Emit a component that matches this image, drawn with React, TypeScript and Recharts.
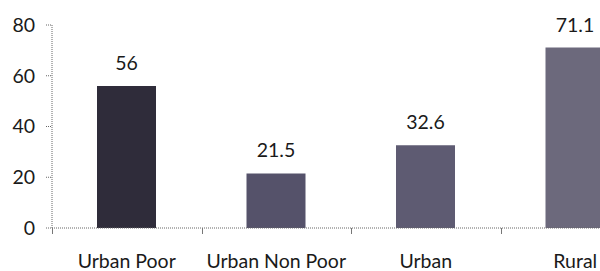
import React from "react";
import { BarChart, Bar, XAxis, YAxis, Cell, LabelList } from "recharts";

const categories = ["Urban Poor", "Urban Non Poor", "Urban", "Rural"];
const values = [56, 21.5, 32.6, 71.1];
const barColors = ["#2f2c3a", "#55526a", "#5e5b72", "#6c697c"];
const yTicks = [0, 20, 40, 60, 80];

const data = categories.map((c, i) => ({ name: c, value: values[i] }));

const FONT = "Lato, 'Open Sans', sans-serif";
const Y_AXIS_WIDTH = 52;

const XTick = (props: any) => {
  const { x, y, payload, index } = props;
  const i = typeof index === "number" ? index : 0;
  const half = (x - Y_AXIS_WIDTH) / (2 * i + 1);
  const lx = Math.round(x - half) + 0.5;
  return (
    <g>
      <line
        x1={lx}
        x2={lx}
        y1={y}
        y2={y + 6}
        stroke="#777"
        strokeWidth={1}
      />
      <text
        x={x}
        y={y}
        dy={40}
        textAnchor="middle"
        fill="#1a1a1a"
        fontSize={19.5}
        fontFamily={FONT}
      >
        {payload.value}
      </text>
    </g>
  );
};

export default function App() {
  return (
    <div
      style={{
        position: "fixed",
        left: 0,
        top: 0,
        width: 600,
        height: 271,
        overflow: "hidden",
        background: "#fff",
      }}
    >
      <BarChart
        width={660}
        height={271}
        data={data}
        margin={{ top: 25, right: 10, bottom: 0, left: 0 }}
        barSize={59}
      >
        <XAxis
          dataKey="name"
          height={43}
          axisLine={{ stroke: "#666", strokeDasharray: "1 1" }}
          tickLine={false}
          tickSize={0}
          tickMargin={0}
          tick={<XTick />}
          interval={0}
        />
        <YAxis
          width={Y_AXIS_WIDTH}
          domain={[0, 80]}
          ticks={yTicks}
          axisLine={{ stroke: "#666", strokeDasharray: "1 1" }}
          tickLine={{ stroke: "#666", strokeDasharray: "1 1" }}
          tickSize={6}
          tickMargin={11}
          tick={{ fill: "#1a1a1a", fontSize: 19.5, fontFamily: FONT }}
        />
        <Bar dataKey="value" isAnimationActive={false}>
          {data.map((d, i) => (
            <Cell key={d.name} fill={barColors[i]} />
          ))}
          <LabelList
            dataKey="value"
            position="top"
            offset={16}
            fill="#1a1a1a"
            fontSize={19.5}
            fontFamily={FONT}
          />
        </Bar>
      </BarChart>
    </div>
  );
}
